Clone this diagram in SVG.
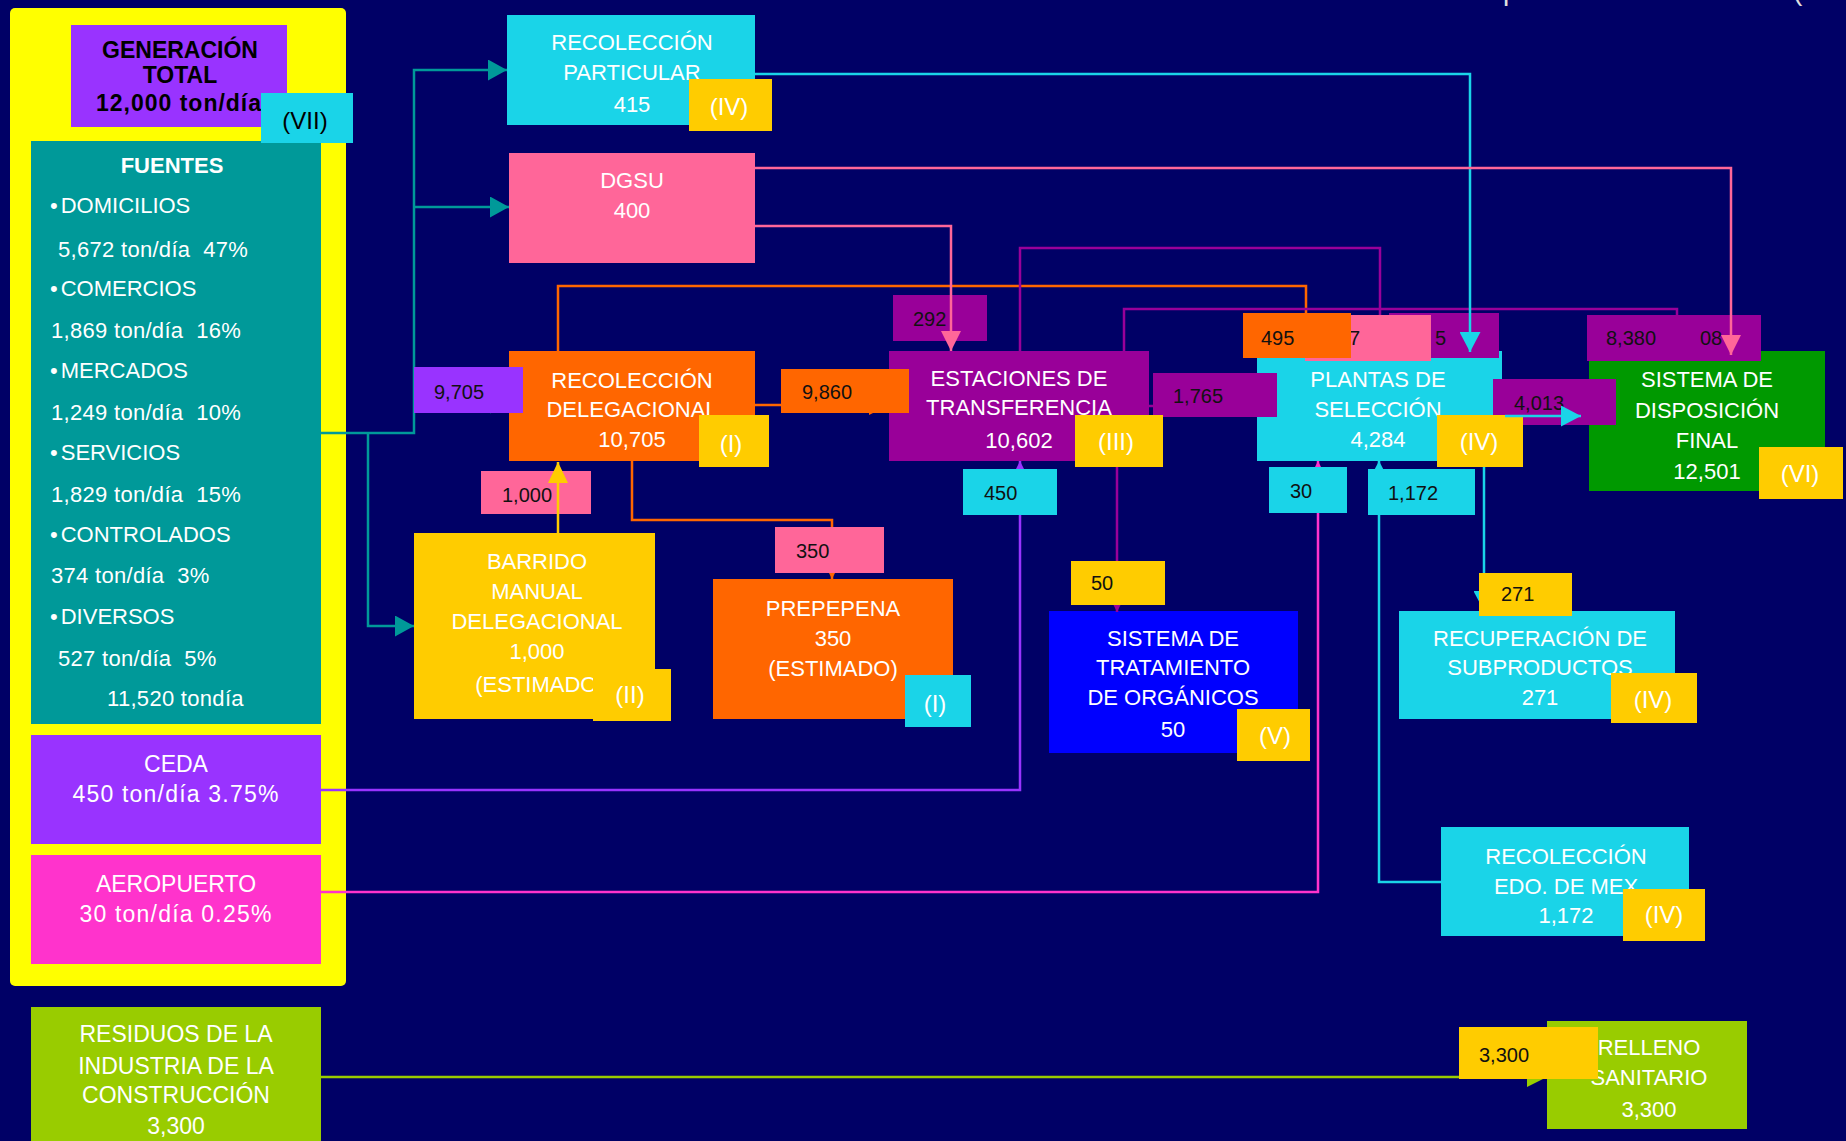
<svg xmlns="http://www.w3.org/2000/svg" width="1846" height="1141" viewBox="0 0 1846 1141">
<style>
text { font-family: "Liberation Sans", Arial, sans-serif; }
.bx { font-size: 22px; fill: #ffffff; text-anchor: middle; }
.lf { font-size: 23px; fill: #ffffff; text-anchor: middle; }
.it { font-size: 22px; fill: #ffffff; white-space: pre; }
.num { letter-spacing: 0.3px; }
.lb { font-size: 20px; fill: #111111; }
.bd { font-size: 24px; fill: #ffffff; text-anchor: middle; }
.ln { fill: none; stroke-width: 2.5; }
.teal { stroke: #009999; }
.cyan { stroke: #1AD4E8; }
.pink { stroke: #FF6699; }
.orange { stroke: #FF6600; }
.purple { stroke: #990099; }
.violet { stroke: #9933FF; }
.magenta { stroke: #FF33CC; }
.yellow { stroke: #FFCC00; }
.lime { stroke: #99CC00; }
</style>
<defs>
<marker id="a-teal" markerUnits="userSpaceOnUse" markerWidth="20" markerHeight="21" refX="19" refY="10.5" orient="auto"><path d="M0,0 L19,10.5 L0,21 z" fill="#009999"/></marker>
<marker id="a-cyan" markerUnits="userSpaceOnUse" markerWidth="20" markerHeight="21" refX="20" refY="10.5" orient="auto"><path d="M0,0 L20,10.5 L0,21 z" fill="#1AD4E8"/></marker>
<marker id="a-pink" markerUnits="userSpaceOnUse" markerWidth="20" markerHeight="20" refX="20" refY="10" orient="auto"><path d="M0,0 L20,10 L0,20 z" fill="#FF6699"/></marker>
<marker id="a-orange" markerUnits="userSpaceOnUse" markerWidth="20" markerHeight="20" refX="20" refY="10" orient="auto"><path d="M0,0 L20,10 L0,20 z" fill="#FF6600"/></marker>
<marker id="a-purple" markerUnits="userSpaceOnUse" markerWidth="20" markerHeight="20" refX="20" refY="10" orient="auto"><path d="M0,0 L20,10 L0,20 z" fill="#990099"/></marker>
<marker id="a-violet" markerUnits="userSpaceOnUse" markerWidth="20" markerHeight="20" refX="20" refY="10" orient="auto"><path d="M0,0 L20,10 L0,20 z" fill="#9933FF"/></marker>
<marker id="a-magenta" markerUnits="userSpaceOnUse" markerWidth="20" markerHeight="20" refX="20" refY="10" orient="auto"><path d="M0,0 L20,10 L0,20 z" fill="#FF33CC"/></marker>
<marker id="a-yellow" markerUnits="userSpaceOnUse" markerWidth="21" markerHeight="20" refX="21" refY="10" orient="auto"><path d="M0,0 L21,10 L0,20 z" fill="#FFCC00"/></marker>
<marker id="a-lime" markerUnits="userSpaceOnUse" markerWidth="20" markerHeight="20" refX="20" refY="10" orient="auto"><path d="M0,0 L20,10 L0,20 z" fill="#99CC00"/></marker>
</defs>

<rect x="0" y="0" width="1846" height="1141" fill="#000066"/>

<g id="title-fragment" fill="#E0E0E0" font-size="28px">
<text x="1503" y="0">p</text>
<text x="1793" y="0">(</text>
</g>

<g id="panel"><rect x="10" y="8" width="336" height="978" rx="5" fill="#FFFF00"/></g>

<g id="n-generacion">
<rect x="71" y="25" width="216" height="102" fill="#9933FF"/>
<text x="180" y="58" font-size="23px" font-weight="bold" fill="#000" text-anchor="middle">GENERACIÓN</text>
<text x="180" y="83" font-size="23px" font-weight="bold" fill="#000" text-anchor="middle">TOTAL</text>
<text x="179" y="111" font-size="23px" font-weight="bold" fill="#000" text-anchor="middle" letter-spacing="1">12,000 ton/día</text>
</g>

<g id="n-fuentes">
<rect x="31" y="141" width="290" height="583" fill="#009999"/>
<text x="172" y="173" font-size="22px" font-weight="bold" fill="#fff" text-anchor="middle">FUENTES</text>
<text class="it" x="50" y="213">•<tspan dx="3">DOMICILIOS</tspan></text>
<text class="it num" x="58" y="257">5,672 ton/día  47%</text>
<text class="it" x="50" y="296">•<tspan dx="3">COMERCIOS</tspan></text>
<text class="it num" x="51" y="338">1,869 ton/día  16%</text>
<text class="it" x="50" y="378">•<tspan dx="3">MERCADOS</tspan></text>
<text class="it num" x="51" y="420">1,249 ton/día  10%</text>
<text class="it" x="50" y="460">•<tspan dx="3">SERVICIOS</tspan></text>
<text class="it num" x="51" y="502">1,829 ton/día  15%</text>
<text class="it" x="50" y="542">•<tspan dx="3">CONTROLADOS</tspan></text>
<text class="it num" x="51" y="583">374 ton/día  3%</text>
<text class="it" x="50" y="624">•<tspan dx="3">DIVERSOS</tspan></text>
<text class="it num" x="58" y="666">527 ton/día  5%</text>
<text class="it num" x="107" y="706">11,520 tondía</text>
</g>

<g id="n-ceda">
<rect x="31" y="735" width="290" height="109" fill="#9933FF"/>
<text class="lf" x="176" y="772">CEDA</text>
<text class="lf" x="176" y="802" letter-spacing="1.2">450 ton/día 3.75%</text>
</g>

<g id="n-aeropuerto">
<rect x="31" y="855" width="290" height="109" fill="#FF33CC"/>
<text class="lf" x="176" y="892">AEROPUERTO</text>
<text class="lf" x="176" y="922" letter-spacing="1.2">30 ton/día 0.25%</text>
</g>

<g id="n-residuos">
<rect x="31" y="1007" width="290" height="140" fill="#99CC00"/>
<text class="lf" x="176" y="1042">RESIDUOS DE LA</text>
<text class="lf" x="176" y="1074">INDUSTRIA DE LA</text>
<text class="lf" x="176" y="1103">CONSTRUCCIÓN</text>
<text class="lf" x="176" y="1134">3,300</text>
</g>

<g id="n-rec-particular">
<rect x="507" y="15" width="248" height="110" fill="#1AD4E8"/>
<text class="bx" x="632" y="50">RECOLECCIÓN</text>
<text class="bx" x="632" y="80">PARTICULAR</text>
<text class="bx" x="632" y="112">415</text>
</g>

<g id="n-dgsu">
<rect x="509" y="153" width="246" height="110" fill="#FF6699"/>
<text class="bx" x="632" y="188">DGSU</text>
<text class="bx" x="632" y="218">400</text>
</g>

<g id="n-rec-delegacional">
<rect x="509" y="351" width="246" height="110" fill="#FF6600"/>
<text class="bx" x="632" y="388">RECOLECCIÓN</text>
<text class="bx" x="632" y="417">DELEGACIONAL</text>
<text class="bx" x="632" y="447">10,705</text>
</g>

<g id="n-barrido">
<rect x="414" y="533" width="241" height="186" fill="#FFCC00"/>
<text class="bx" x="537" y="569">BARRIDO</text>
<text class="bx" x="537" y="599">MANUAL</text>
<text class="bx" x="537" y="629">DELEGACIONAL</text>
<text class="bx" x="537" y="659">1,000</text>
<text class="bx" x="540" y="692">(ESTIMADO)</text>
</g>

<g id="n-prepepena">
<rect x="713" y="579" width="240" height="140" fill="#FF6600"/>
<text class="bx" x="833" y="616">PREPEPENA</text>
<text class="bx" x="833" y="646">350</text>
<text class="bx" x="833" y="676">(ESTIMADO)</text>
</g>

<g id="n-estaciones">
<rect x="889" y="351" width="260" height="110" fill="#990099"/>
<text class="bx" x="1019" y="386">ESTACIONES DE</text>
<text class="bx" x="1019" y="415">TRANSFERENCIA</text>
<text class="bx" x="1019" y="448">10,602</text>
</g>

<g id="n-plantas">
<rect x="1257" y="351" width="245" height="110" fill="#1AD4E8"/>
<text class="bx" x="1378" y="387">PLANTAS DE</text>
<text class="bx" x="1378" y="417">SELECCIÓN</text>
<text class="bx" x="1378" y="447">4,284</text>
</g>

<g id="n-disposicion">
<rect x="1589" y="351" width="236" height="140" fill="#009900"/>
<text class="bx" x="1707" y="387">SISTEMA DE</text>
<text class="bx" x="1707" y="418">DISPOSICIÓN</text>
<text class="bx" x="1707" y="448">FINAL</text>
<text class="bx" x="1707" y="479">12,501</text>
</g>

<g id="n-tratamiento">
<rect x="1049" y="611" width="249" height="142" fill="#0000FF"/>
<text class="bx" x="1173" y="646">SISTEMA DE</text>
<text class="bx" x="1173" y="675">TRATAMIENTO</text>
<text class="bx" x="1173" y="705">DE ORGÁNICOS</text>
<text class="bx" x="1173" y="737">50</text>
</g>

<g id="n-recuperacion">
<rect x="1399" y="611" width="276" height="108" fill="#1AD4E8"/>
<text class="bx" x="1540" y="646">RECUPERACIÓN DE</text>
<text class="bx" x="1540" y="675">SUBPRODUCTOS</text>
<text class="bx" x="1540" y="705">271</text>
</g>

<g id="n-rec-edomex">
<rect x="1441" y="827" width="248" height="109" fill="#1AD4E8"/>
<text class="bx" x="1566" y="864">RECOLECCIÓN</text>
<text class="bx" x="1566" y="894">EDO. DE MEX</text>
<text class="bx" x="1566" y="923">1,172</text>
</g>

<g id="n-relleno">
<rect x="1547" y="1021" width="200" height="108" fill="#99CC00"/>
<text class="bx" x="1649" y="1055">RELLENO</text>
<text class="bx" x="1649" y="1085">SANITARIO</text>
<text class="bx" x="1649" y="1117">3,300</text>
</g>

<g id="connectors">
<path class="ln teal" d="M321,433 H414 V70 H507" marker-end="url(#a-teal)"/>
<path class="ln teal" d="M414,207 H509" marker-end="url(#a-teal)"/>
<path class="ln teal" d="M414,403 H509" marker-end="url(#a-teal)"/>
<path class="ln teal" d="M368,433 V626 H414" marker-end="url(#a-teal)"/>
<path class="ln orange" d="M558,351 V286 H1306 V351" marker-end="url(#a-orange)"/>
<path class="ln purple" d="M1020,351 V248 H1380 V351" marker-end="url(#a-purple)"/>
<path class="ln purple" d="M1124,351 V309 H1677 V351" marker-end="url(#a-purple)"/>
<path class="ln orange" d="M755,405 H889" marker-end="url(#a-orange)"/>
<path class="ln orange" d="M632,461 V520 H832 V579" marker-end="url(#a-orange)"/>
<path class="ln purple" d="M1149,406 H1257" marker-end="url(#a-purple)"/>
<path class="ln violet" d="M321,790 H1020 V461" marker-end="url(#a-violet)"/>
<path class="ln magenta" d="M321,892 H1318 V461" marker-end="url(#a-magenta)"/>
<path class="ln cyan" d="M1441,882 H1379 V461" marker-end="url(#a-cyan)"/>
<path class="ln purple" d="M1117,461 V612" marker-end="url(#a-purple)"/>
<path class="ln cyan" d="M1484,461 V611" marker-end="url(#a-cyan)"/>
<path class="ln lime" d="M321,1077 H1547" marker-end="url(#a-lime)"/>
</g>

<g id="edge-labels">
<g id="l-9705"><rect x="414" y="367" width="109" height="46" fill="#9933FF"/><text class="lb" x="434" y="399">9,705</text></g>
<g id="l-9860"><rect x="781" y="369" width="128" height="44" fill="#FF6600"/><text class="lb" x="802" y="399">9,860</text></g>
<g id="l-1000"><rect x="481" y="471" width="110" height="43" fill="#FF6699"/><text class="lb" x="502" y="502">1,000</text></g>
<g id="l-350"><rect x="775" y="527" width="109" height="46" fill="#FF6699"/><text class="lb" x="796" y="558">350</text></g>
<g id="l-292"><rect x="893" y="295" width="94" height="46" fill="#990099"/><text class="lb" x="913" y="326">292</text></g>
<g id="l-1765"><rect x="1153" y="373" width="124" height="44" fill="#990099"/><text class="lb" x="1173" y="403">1,765</text></g>
<g id="l-5"><rect x="1389" y="313" width="110" height="45" fill="#990099"/><text class="lb" x="1435" y="345">5</text></g>
<g id="l-7"><rect x="1305" y="315" width="126" height="46" fill="#FF6699"/><text class="lb" x="1349" y="345">7</text></g>
<g id="l-495"><rect x="1243" y="313" width="108" height="45" fill="#FF6600"/><text class="lb" x="1261" y="345">495</text></g>
<g id="l-8380"><rect x="1587" y="315" width="174" height="46" fill="#990099"/><text class="lb" x="1606" y="345">8,380</text><text class="lb" x="1700" y="345">08</text></g>
<g id="l-4013"><rect x="1493" y="379" width="123" height="46" fill="#990099"/><text class="lb" x="1514" y="410">4,013</text></g>
<g id="l-450"><rect x="963" y="469" width="94" height="46" fill="#1AD4E8"/><text class="lb" x="984" y="500">450</text></g>
<g id="l-30"><rect x="1269" y="467" width="78" height="46" fill="#1AD4E8"/><text class="lb" x="1290" y="498">30</text></g>
<g id="l-1172"><rect x="1368" y="469" width="107" height="46" fill="#1AD4E8"/><text class="lb" x="1388" y="500">1,172</text></g>
<g id="l-50"><rect x="1071" y="561" width="94" height="44" fill="#FFCC00"/><text class="lb" x="1091" y="590">50</text></g>
<g id="l-271"><rect x="1479" y="573" width="93" height="43" fill="#FFCC00"/><text class="lb" x="1501" y="601">271</text></g>
<g id="l-3300"><rect x="1459" y="1027" width="139" height="52" fill="#FFCC00"/><text class="lb" x="1479" y="1062" font-size="22px">3,300</text></g>
</g>

<g id="badges">
<g id="b-vii"><rect x="261" y="93" width="92" height="50" fill="#1AD4E8"/><text class="bd" x="305" y="129" style="fill:#000">(VII)</text></g>
<g id="b-particular"><rect x="689" y="79" width="83" height="52" fill="#FFCC00"/><text class="bd" x="729" y="115">(IV)</text></g>
<g id="b-delegacional"><rect x="699" y="415" width="70" height="52" fill="#FFCC00"/><text class="bd" x="731" y="452">(I)</text></g>
<g id="b-barrido"><rect x="593" y="669" width="78" height="52" fill="#FFCC00"/><text class="bd" x="630" y="703">(II)</text></g>
<g id="b-prepepena"><rect x="905" y="675" width="66" height="52" fill="#1AD4E8"/><text class="bd" x="935" y="712">(I)</text></g>
<g id="b-estaciones"><rect x="1075" y="415" width="88" height="52" fill="#FFCC00"/><text class="bd" x="1116" y="450">(III)</text></g>
<g id="b-plantas"><rect x="1437" y="415" width="86" height="52" fill="#FFCC00"/><text class="bd" x="1479" y="450">(IV)</text></g>
<g id="b-disposicion"><rect x="1759" y="447" width="84" height="52" fill="#FFCC00"/><text class="bd" x="1800" y="482">(VI)</text></g>
<g id="b-tratamiento"><rect x="1237" y="709" width="73" height="52" fill="#FFCC00"/><text class="bd" x="1275" y="744">(V)</text></g>
<g id="b-recuperacion"><rect x="1611" y="673" width="86" height="50" fill="#FFCC00"/><text class="bd" x="1653" y="708">(IV)</text></g>
<g id="b-edomex"><rect x="1623" y="889" width="82" height="52" fill="#FFCC00"/><text class="bd" x="1664" y="923">(IV)</text></g>
</g>

<g id="connectors-over">
<path class="ln cyan" d="M755,74 H1470 V352" marker-end="url(#a-cyan)"/>
<path class="ln pink" d="M755,168 H1731 V355" marker-end="url(#a-pink)"/>
<path class="ln pink" d="M755,226 H951 V351" marker-end="url(#a-pink)"/>
<path class="ln yellow" d="M558,533 V462" marker-end="url(#a-yellow)"/>
<path class="ln cyan" d="M1505,416 H1581" marker-end="url(#a-cyan)"/>
</g>
</svg>
